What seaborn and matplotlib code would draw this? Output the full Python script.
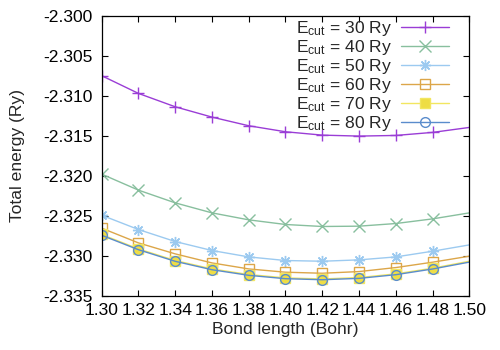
import matplotlib
matplotlib.use("Agg")
import matplotlib.pyplot as plt
import seaborn as sns
import pandas as pd
import numpy as np

bond = [1.30, 1.32, 1.34, 1.36, 1.38, 1.40, 1.42, 1.44, 1.46, 1.48, 1.50]
e30 = [-2.30752, -2.30973, -2.31140, -2.31269, -2.31377, -2.31452, -2.31494, -2.31506, -2.31498, -2.31460, -2.31398]
e40 = [-2.31981, -2.32181, -2.32340, -2.32465, -2.32552, -2.32610, -2.32635, -2.32631, -2.32598, -2.32540, -2.32465]
e50 = [-2.32494, -2.32673, -2.32823, -2.32935, -2.33015, -2.33060, -2.33069, -2.33052, -2.33015, -2.32944, -2.32865]
e60 = [-2.32656, -2.32840, -2.32977, -2.33090, -2.33165, -2.33206, -2.33219, -2.33198, -2.33148, -2.33081, -2.33006]
e70 = [-2.32735, -2.32915, -2.33060, -2.33165, -2.33235, -2.33277, -2.33290, -2.33273, -2.33227, -2.33156, -2.33069]
e80 = [-2.32745, -2.32925, -2.33070, -2.33175, -2.33245, -2.33287, -2.33300, -2.33283, -2.33237, -2.33166, -2.33080]
cutoffs = [30, 40, 50, 60, 70, 80]
xticks = [1.30, 1.32, 1.34, 1.36, 1.38, 1.40, 1.42, 1.44, 1.46, 1.48, 1.50]
yticks = [-2.300, -2.305, -2.310, -2.315, -2.320, -2.325, -2.330, -2.335]

series = [e30, e40, e50, e60, e70, e80]
colors = ["#9a3dd6", "#88bf9e", "#9ccaf0", "#dca649", "#f2e660", "#5a8ccc"]
markers = ["+", "x", (8, 2, 0), "s", "s", "o"]
mfcs = ["none", "none", "none", "none", "#eedd44", "none"]
msizes = [9, 8, 8, 7, 7, 7]

sns.set_theme(style="ticks")
plt.rcParams["font.family"] = ["Liberation Sans", "DejaVu Sans"]
plt.rcParams["mathtext.fontset"] = "custom"
plt.rcParams["mathtext.rm"] = "Liberation Sans"
plt.rcParams["mathtext.it"] = "Liberation Sans"

fig = plt.figure(figsize=(5, 3.5), dpi=100)
ax = fig.add_axes([0.2034, 0.155, 0.7352, 0.8007])

for c, e, col, m, mfc, ms in zip(cutoffs, series, colors, markers, mfcs, msizes):
    df = pd.DataFrame({"x": bond, "y": e})
    sns.lineplot(data=df, x="x", y="y", ax=ax, color=col, marker=m,
                 markersize=ms, markerfacecolor=mfc, markeredgecolor=col,
                 markeredgewidth=1.0, linewidth=1.0, markevery=slice(0, 10),
                 label=r"E$_{\mathrm{cut}}$ = %d Ry" % c, clip_on=True)

ax.set_xlim(1.30, 1.50)
ax.set_ylim(-2.335, -2.300)
ax.set_xticks(xticks)
ax.set_xticklabels(["%.2f" % t for t in xticks])
ax.set_yticks(yticks)
ax.set_yticklabels(["%.3f" % t for t in yticks])
ax.tick_params(direction="in", top=True, right=True, length=4, width=0.8,
               labelsize=12.6, colors="black")
ax.tick_params(axis="y", pad=6.5)
ax.tick_params(axis="x", pad=5)
for s in ax.spines.values():
    s.set_linewidth(0.9)
    s.set_color("black")
ax.set_xlabel("Bond length (Bohr)", fontsize=12.6, labelpad=3)
ax.set_ylabel("Total energy (Ry)", fontsize=12.6, labelpad=13)

leg = ax.legend(loc="upper right", bbox_to_anchor=(0.972, 1.025), frameon=False,
                markerfirst=False, fontsize=12.6, labelspacing=0.0,
                handlelength=2.7, handletextpad=0.5, borderaxespad=0.2,
                numpoints=1)
for t in leg.get_texts():
    t.set_ha("right")

fig.savefig("out.png", dpi=100)
